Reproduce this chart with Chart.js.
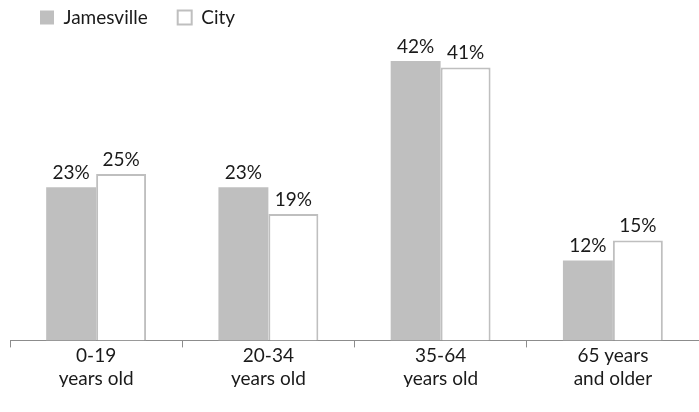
<!DOCTYPE html>
<html>
<head>
<meta charset="utf-8">
<script src="https://cdn.jsdelivr.net/npm/chart.js@4"></script>
<style>
  html, body { margin: 0; padding: 0; background: #fff; }
  #wrap { width: 699px; height: 412px; position: relative; }
</style>
</head>
<body>
<div id="wrap"><canvas id="myBarChart"></canvas></div>
<script>
const categories = [['0-19', 'years old'], ['20-34', 'years old'], ['35-64', 'years old'], ['65 years', 'and older']];
const jamesville = [23, 23, 42, 12];
const city = [25, 19, 41, 15];

const FONT = 'Lato, "Open Sans", sans-serif';

// percentage labels above each bar
const barLabels = {
    id: 'barLabels',
    afterDatasetsDraw(chart) {
        const ctx = chart.ctx;
        ctx.save();
        ctx.font = '19px ' + FONT;
        ctx.fillStyle = '#1a1a1a';
        ctx.textAlign = 'center';
        ctx.textBaseline = 'bottom';
        chart.data.datasets.forEach((ds, i) => {
            chart.getDatasetMeta(i).data.forEach((bar, j) => {
                ctx.fillText(ds.data[j] + '%', bar.x, bar.y - 5);
            });
        });
        ctx.restore();
    }
};

const dataBar = {
    labels: categories,
    datasets: [
        {
            label: 'Jamesville',
            data: jamesville,
            backgroundColor: '#bfbfbf',
            borderColor: '#bfbfbf',
            borderWidth: 0
        },
        {
            label: 'City',
            data: city,
            backgroundColor: '#ffffff',
            borderColor: '#bfbfbf',
            borderWidth: 2
        }
    ]
};

const config = {
    type: 'bar',
    data: dataBar,
    plugins: [barLabels],
    options: {
        responsive: true,
        maintainAspectRatio: false,
        animation: false,
        layout: { padding: { left: 10, right: 0, top: -22, bottom: 25 } },
        datasets: {
            bar: { categoryPercentage: 0.58, barPercentage: 1.0 }
        },
        plugins: {
            tooltip: { enabled: false },
            legend: {
                position: 'top',
                align: 'start',
                labels: {
                    boxWidth: 14,
                    boxHeight: 14,
                    padding: 30,
                    color: '#1a1a1a',
                    font: { family: FONT, size: 19 }
                }
            }
        },
        scales: {
            y: {
                display: false,
                beginAtZero: true,
                max: 45.6
            },
            x: {
                grid: {
                    offset: true,
                    drawOnChartArea: false,
                    tickLength: 7,
                    color: '#8c8c8c'
                },
                border: { color: '#8c8c8c', width: 1 },
                ticks: {
                    color: '#1a1a1a',
                    font: { family: FONT, size: 19, lineHeight: 1.2 },
                    padding: -3
                }
            }
        }
    }
};

const myBarChart = new Chart(document.getElementById('myBarChart'), config);
</script>
</body>
</html>
